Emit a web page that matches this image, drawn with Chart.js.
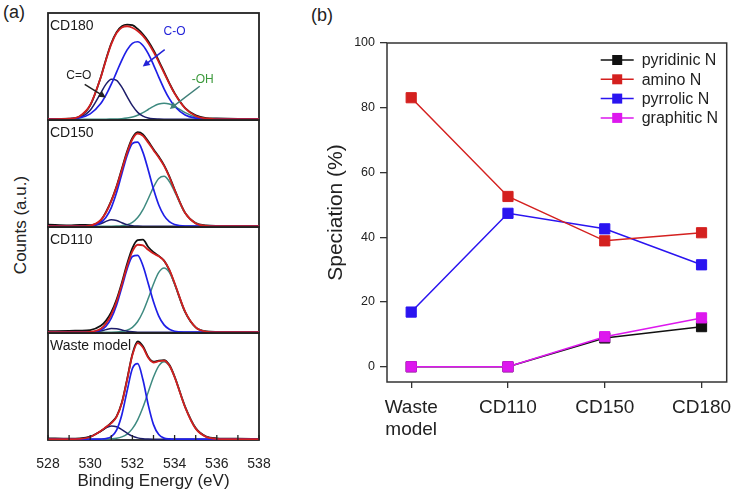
<!DOCTYPE html>
<html><head><meta charset="utf-8">
<script src="https://cdn.jsdelivr.net/npm/chart.js@4.4.1/dist/chart.umd.min.js"></script>
<style>
html,body{margin:0;padding:0;background:#fff;}
body{width:731px;height:492px;position:relative;overflow:hidden;font-family:"Liberation Sans",Arial,Helvetica,sans-serif;color:#222;}
canvas{position:absolute;}
.lbl{position:absolute;white-space:nowrap;line-height:1;}
</style></head><body>
<div class="lbl" style="left:3px;top:3px;font-size:18px;">(a)</div>
<div class="lbl" style="left:311px;top:6px;font-size:18px;">(b)</div>
<div class="lbl" style="left:20px;top:225px;font-size:17px;transform:translate(-50%,-50%) rotate(-90deg);">Counts (a.u.)</div>
<script>
// ---------- Panel (a): XPS O1s spectra ----------
const energyEV = [528, 529, 529.5, 530, 530.5, 530.75, 531, 531.25, 531.5, 531.75, 532, 532.25, 532.5, 532.75, 533, 533.25, 533.5, 533.75, 534, 534.5, 535, 535.5, 536, 537, 538];
const xTickValues = [528, 529, 530, 531, 532, 533, 534, 535, 536, 537, 538];
const panelNames = ['CD180', 'CD150', 'CD110', 'Waste model'];

const rawCD180 = [0.3, 0.5, 2.5, 13.0, 39.5, 56.5, 71.5, 82.0, 87.5, 89.0, 88.5, 85.0, 80.0, 73.5, 65.0, 55.0, 44.5, 34.0, 24.5, 10.5, 3.5, 1.0, 0.6, 0.2, 0];
const fitCD180 = [0, 0.4, 2.8, 13.3, 39.2, 55.8, 70.7, 81.1, 86.3, 87.5, 86.1, 83.0, 78.4, 71.8, 63.5, 53.8, 43.6, 33.5, 24.1, 10.1, 3.0, 0.6, 0.1, 0, 0];
const coCD180 = [0, 0.3, 1.3, 5.0, 14.7, 22.8, 32.9, 44.3, 55.7, 65.3, 71.4, 72.9, 69.4, 61.7, 51.2, 39.6, 28.6, 19.3, 12.1, 3.9, 1.0, 0.2, 0, 0, 0];
const cdoCD180 = [0, 0.1, 1.5, 8.3, 24.5, 33.0, 37.7, 36.6, 30.2, 21.2, 12.7, 6.4, 2.8, 1.0, 0.3, 0.1, 0, 0, 0, 0, 0, 0, 0, 0, 0];
const ohCD180 = [0, 0, 0, 0, 0, 0, 0.1, 0.2, 0.4, 1.0, 2.0, 3.7, 6.2, 9.1, 12.0, 14.2, 15.0, 14.2, 12.0, 6.2, 2.0, 0.4, 0.1, 0, 0];

const rawCD150 = [1.5, 0.8, 1.2, 1.0, 5.5, 13.5, 24.0, 37.5, 54.0, 70.5, 83.0, 88.5, 86.5, 80.0, 72.5, 65.5, 57.5, 47.0, 34.5, 12.5, 3.0, 0.8, 0.3, 0.2, 0];
const fitCD150 = [0, 0, 0, 0.6, 5.8, 12.9, 23.5, 37.0, 53.0, 69.3, 81.9, 87.3, 85.1, 78.7, 71.6, 64.7, 56.8, 46.3, 34.1, 12.3, 2.5, 0.3, 0, 0, 0];
const coCD150 = [0, 0, 0, 0.4, 3.5, 8.4, 17.5, 31.6, 49.3, 66.6, 77.9, 79.1, 69.5, 52.9, 34.9, 19.9, 9.9, 4.2, 1.6, 0.1, 0, 0, 0, 0, 0];
const cdoCD150 = [0, 0, 0, 0.2, 2.3, 4.5, 6.0, 5.3, 3.2, 1.3, 0.4, 0.1, 0, 0, 0, 0, 0, 0, 0, 0, 0, 0, 0, 0, 0];
const ohCD150 = [0, 0, 0, 0, 0, 0, 0, 0.1, 0.5, 1.4, 3.6, 8.1, 15.6, 25.8, 36.7, 44.8, 46.9, 42.1, 32.5, 12.2, 2.5, 0.3, 0, 0, 0];

const rawCD110 = [1.0, 1.2, 1.5, 2.0, 6.0, 11.0, 19.0, 31.0, 47.0, 65.0, 80.0, 87.5, 88.0, 81.0, 76.0, 72.5, 68.0, 59.0, 46.0, 19.0, 4.5, 0.8, 0.3, 0.2, 0];
const fitCD110 = [0, 0, 0, 0.3, 3.2, 8.2, 16.7, 29.2, 45.4, 62.8, 76.8, 83.1, 82.5, 78.3, 74.7, 72.1, 67.9, 59.5, 46.7, 19.5, 4.6, 0.6, 0, 0, 0];
const coCD110 = [0, 0, 0, 0.2, 2.1, 5.8, 13.3, 25.8, 42.7, 60.1, 71.9, 73.0, 63.1, 46.3, 28.9, 15.3, 6.9, 2.7, 0.9, 0.1, 0, 0, 0, 0, 0];
const cdoCD110 = [0, 0, 0, 0.1, 1.1, 2.4, 3.4, 3.3, 2.1, 0.9, 0.3, 0, 0, 0, 0, 0, 0, 0, 0, 0, 0, 0, 0, 0, 0];
const ohCD110 = [0, 0, 0, 0, 0, 0, 0, 0.1, 0.6, 1.8, 4.6, 10.1, 19.4, 32.0, 45.8, 56.8, 61.0, 56.8, 45.8, 19.4, 4.6, 0.6, 0, 0, 0];

const rawWaste = [0.8, 0.5, 0.8, 2.5, 7.5, 11.0, 15.5, 21.5, 34.5, 56.5, 80.0, 92.0, 87.5, 77.5, 73.0, 74.0, 74.5, 70.0, 59.0, 30.5, 10.5, 2.5, 0.8, 0.4, 0];
const fitWaste = [0, 0, 0.2, 2.0, 7.7, 11.4, 15.1, 21.0, 34.0, 56.0, 79.2, 90.5, 86.3, 76.7, 72.2, 73.4, 74.0, 69.3, 58.5, 30.0, 9.9, 2.1, 0.3, 0, 0];
const coWaste = [0, 0, 0, 0, 0.1, 0.5, 2.3, 8.5, 23.0, 45.6, 66.5, 71.1, 55.9, 32.3, 13.7, 4.3, 1.0, 0.2, 0, 0, 0, 0, 0, 0, 0];
const cdoWaste = [0, 0, 0.2, 2.0, 7.6, 10.8, 12.5, 11.7, 8.9, 5.6, 2.8, 1.2, 0.4, 0.1, 0, 0, 0, 0, 0, 0, 0, 0, 0, 0, 0];
const ohWaste = [0, 0, 0, 0, 0, 0.1, 0.3, 0.8, 2.1, 4.8, 9.9, 18.2, 30.0, 44.3, 58.5, 69.1, 73.0, 69.1, 58.5, 30.0, 9.9, 2.1, 0.3, 0, 0];

// annotation labels (data coordinates of panel CD180)
const cd180NoteText = ['C-O', 'C=O', '-OH'];
const cd180NoteAt = [[534.0, 82], [529.46, 41], [535.33, 37.5]];
const cd180ArrowFrom = [[533.53, 65.5], [529.74, 32.7], [535.19, 31]];
const cd180ArrowTo = [[532.49, 49.5], [530.74, 20.5], [533.77, 9.5]];

// ---------- Panel (b): N speciation ----------
const categories = [['Waste', 'model'], 'CD110', 'CD150', 'CD180'];
const seriesNames = ['pyridinic N', 'amino N', 'pyrrolic N', 'graphitic N'];
const pyridinicN = [0, 0, 8.9, 12.4];
const aminoN = [83.1, 52.6, 38.9, 41.4];
const pyrrolicN = [16.9, 47.4, 42.6, 31.5];
const graphiticN = [0, 0, 9.3, 15.1];

const FONT = '"Liberation Sans", Arial, Helvetica, sans-serif';
Chart.defaults.font.family = FONT;
Chart.defaults.color = '#222';

function addCanvas(left, top, w, h) {
  const c = document.createElement('canvas');
  c.width = w; c.height = h;
  c.style.left = left + 'px'; c.style.top = top + 'px';
  c.style.width = w + 'px'; c.style.height = h + 'px';
  document.body.appendChild(c);
  return c;
}

const COL = {raw: '#111111', fit: '#d21f1f', co: '#1f1fe6', cdo: '#1d1d6a', oh: '#3e8a80'};

function framePluginA(name, isBottom, notes) {
  return {
    id: 'frameA',
    beforeDatasetsDraw(chart) {
      const {ctx, chartArea: a} = chart;
      ctx.save();
      ctx.strokeStyle = '#222'; ctx.lineWidth = 1.8;
      ctx.strokeRect(a.left, a.top, a.right - a.left, a.bottom - a.top);
      ctx.restore();
    },
    afterDatasetsDraw(chart) {
      const {ctx, chartArea: a, scales} = chart;
      ctx.save();
      ctx.fillStyle = '#1a1a1a';
      ctx.font = '14px ' + FONT;
      ctx.textBaseline = 'middle'; ctx.textAlign = 'left';
      ctx.fillText(name, a.left + 2, a.top + 13.5);
      if (isBottom) {
        ctx.strokeStyle = '#222'; ctx.lineWidth = 1.3;
        xTickValues.forEach(v => {
          const x = scales.x.getPixelForValue(v);
          ctx.beginPath(); ctx.moveTo(x, a.bottom); ctx.lineTo(x, a.bottom - 5); ctx.stroke();
        });
      }
      if (notes) {
        const colors = ['#2323d8', '#222222', '#3c9a3c'];
        const arrowColors = ['#2323d8', '#222222', '#3f7f78'];
        ctx.font = '12px ' + FONT; ctx.textAlign = 'center';
        cd180NoteText.forEach((t, i) => {
          ctx.fillStyle = colors[i];
          ctx.fillText(t, scales.x.getPixelForValue(cd180NoteAt[i][0]), scales.y.getPixelForValue(cd180NoteAt[i][1]));
          const x0 = scales.x.getPixelForValue(cd180ArrowFrom[i][0]), y0 = scales.y.getPixelForValue(cd180ArrowFrom[i][1]);
          const x1 = scales.x.getPixelForValue(cd180ArrowTo[i][0]), y1 = scales.y.getPixelForValue(cd180ArrowTo[i][1]);
          const ang = Math.atan2(y1 - y0, x1 - x0);
          ctx.strokeStyle = arrowColors[i]; ctx.fillStyle = arrowColors[i]; ctx.lineWidth = 1.5;
          ctx.beginPath(); ctx.moveTo(x0, y0); ctx.lineTo(x1 - 4 * Math.cos(ang), y1 - 4 * Math.sin(ang)); ctx.stroke();
          ctx.beginPath();
          ctx.moveTo(x1, y1);
          ctx.lineTo(x1 - 7 * Math.cos(ang) + 3.5 * Math.sin(ang), y1 - 7 * Math.sin(ang) - 3.5 * Math.cos(ang));
          ctx.lineTo(x1 - 7 * Math.cos(ang) - 3.5 * Math.sin(ang), y1 - 7 * Math.sin(ang) + 3.5 * Math.cos(ang));
          ctx.closePath(); ctx.fill();
        });
      }
      ctx.restore();
    }
  };
}

function makePanel(idx, raw, fit, co, cdo, oh) {
  const layoutTops = [13, 120, 227, 333, 440];
  const T = layoutTops[idx], B = layoutTops[idx + 1];
  const isBottom = idx === 3;
  const cTop = T - 6;
  const cH = isBottom ? 492 - cTop : (B - T) + 12;
  const canvas = addCanvas(0, cTop, 290, cH);
  const pts = arr => arr.map((v, i) => ({x: energyEV[i], y: v}));
  const ds = (label, arr, color, w) => ({label, data: pts(arr), borderColor: color, backgroundColor: color,
    borderWidth: w, pointRadius: 0, cubicInterpolationMode: 'monotone', fill: false});
  const xScale = {type: 'linear', min: 528, max: 538, display: isBottom,
    grid: {display: false}, border: {display: false},
    ticks: {stepSize: 1, autoSkip: false, maxRotation: 0, padding: 8, color: '#222',
      font: {size: 14}, callback: v => (v % 2 === 0 ? String(v) : '')},
    title: {display: true, text: 'Binding Energy (eV)', color: '#222', font: {size: 17}, padding: {top: 0, bottom: 0}}
  };
  if (isBottom) xScale.afterFit = s => { s.height = 52; };
  new Chart(canvas, {
    type: 'line',
    data: {datasets: [
      ds('Fit', fit, COL.fit, 1.8),
      ds('C-O', co, COL.co, 1.7),
      ds('C=O', cdo, COL.cdo, 1.5),
      ds('-OH', oh, COL.oh, 1.5),
      ds('Raw', raw, COL.raw, 1.8)
    ]},
    options: {
      responsive: false, animation: false, events: [],
      layout: {padding: {left: 48, right: 31, top: 6, bottom: isBottom ? 0 : 6}},
      plugins: {legend: {display: false}, tooltip: {enabled: false}},
      scales: {
        x: xScale,
        y: {display: false, min: -0.8, max: 100}
      }
    },
    plugins: [framePluginA(panelNames[idx], isBottom, idx === 0)]
  });
}

makePanel(0, rawCD180, fitCD180, coCD180, cdoCD180, ohCD180);
makePanel(1, rawCD150, fitCD150, coCD150, cdoCD150, ohCD150);
makePanel(2, rawCD110, fitCD110, coCD110, cdoCD110, ohCD110);
makePanel(3, rawWaste, fitWaste, coWaste, cdoWaste, ohWaste);

// ---------- Panel (b) chart ----------
const framePluginB = {
  id: 'frameB',
  beforeDatasetsDraw(chart) {
    const {ctx, chartArea: a} = chart;
    ctx.save();
    ctx.strokeStyle = '#333'; ctx.lineWidth = 1.5;
    ctx.strokeRect(a.left, a.top, a.right - a.left, a.bottom - a.top);
    ctx.restore();
  },
  afterDraw(chart) {
    const {ctx, chartArea: a} = chart;
    ctx.save();
    chart.data.datasets.forEach((d, i) => {
      const y = a.top + 17 + i * 19.3;
      const x0 = a.right - 126, x1 = a.right - 93, xm = (x0 + x1) / 2;
      ctx.strokeStyle = d.borderColor; ctx.lineWidth = 1.5;
      ctx.beginPath(); ctx.moveTo(x0, y); ctx.lineTo(x1, y); ctx.stroke();
      ctx.fillStyle = d.pointBackgroundColor;
      ctx.fillRect(xm - 5, y - 5, 10, 10);
      ctx.fillStyle = '#222'; ctx.font = '16px ' + FONT;
      ctx.textBaseline = 'middle'; ctx.textAlign = 'left';
      ctx.fillText(d.label, a.right - 85, y + 1);
    });
    ctx.restore();
  }
};

const bColors = ['#111111', '#d4201f', '#2a14f0', '#dd18ee'];
const bSeries = [pyridinicN, aminoN, pyrrolicN, graphiticN];
const bOrder = [2, 1, 1, 0];
const bCanvas = addCanvas(300, 0, 440, 492);
new Chart(bCanvas, {
  type: 'line',
  data: {datasets: bSeries.map((arr, k) => ({
    label: seriesNames[k],
    data: arr.map((v, i) => ({x: i, y: v})),
    borderColor: bColors[k], backgroundColor: bColors[k],
    pointBackgroundColor: bColors[k], pointBorderColor: bColors[k],
    pointStyle: 'rect', pointRadius: 7.2, pointBorderWidth: 1,
    borderWidth: 1.5, tension: 0, fill: false, order: bOrder[k]
  }))},
  options: {
    responsive: false, animation: false, events: [],
    layout: {padding: {left: 0, right: 12, top: 43, bottom: 0}},
    plugins: {legend: {display: false}, tooltip: {enabled: false}},
    scales: {
      x: {type: 'linear', min: -0.25, max: 3.26,
        grid: {drawOnChartArea: false, drawTicks: true, tickLength: 6, color: '#333', lineWidth: 1.3},
        border: {display: false},
        ticks: {stepSize: 1, includeBounds: false, autoSkip: false, maxRotation: 0, padding: 8, color: '#222',
          font: {size: 19, lineHeight: 1.2},
          callback: v => (Number.isInteger(v) && categories[v] !== undefined ? categories[v] : '')},
        afterFit: s => { s.height = 110; }
      },
      y: {min: -4.7, max: 100,
        grid: {drawOnChartArea: false, drawTicks: true, tickLength: 7, color: '#333', lineWidth: 1.3},
        border: {display: false},
        ticks: {stepSize: 20, includeBounds: false, padding: 5, color: '#222', font: {size: 12.5}},
        title: {display: true, text: 'Speciation (%)', color: '#222', font: {size: 21}, padding: {top: 24, bottom: 0}},
        afterFit: s => { s.width = 87; }
      }
    }
  },
  plugins: [framePluginB]
});
</script>
</body></html>
